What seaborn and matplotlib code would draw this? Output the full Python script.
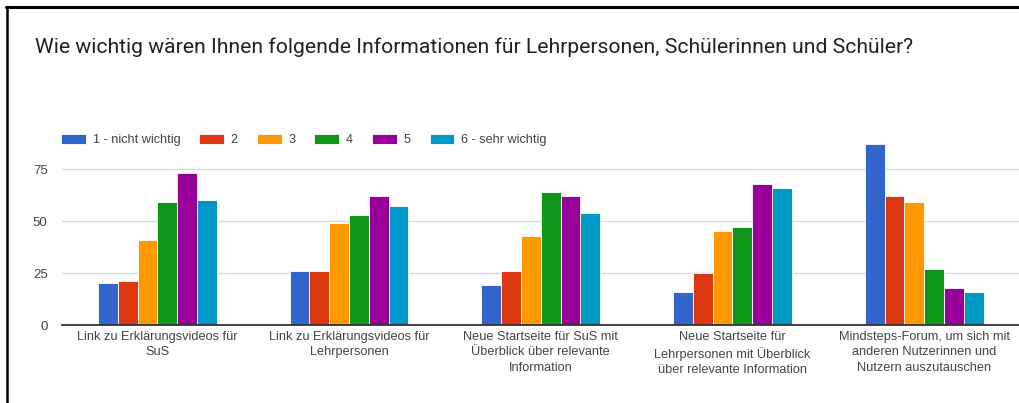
import matplotlib
matplotlib.use("Agg")
import matplotlib.pyplot as plt
from matplotlib.lines import Line2D
import pandas as pd
import seaborn as sns

categories = [
    "Link zu Erklärungsvideos für\nSuS",
    "Link zu Erklärungsvideos für\nLehrpersonen",
    "Neue Startseite für SuS mit\nÜberblick über relevante\nInformation",
    "Neue Startseite für\nLehrpersonen mit Überblick\nüber relevante Information",
    "Mindsteps-Forum, um sich mit\nanderen Nutzerinnen und\nNutzern auszutauschen",
]
levels = ["1 - nicht wichtig", "2", "3", "4", "5", "6 - sehr wichtig"]
counts = {
    "1 - nicht wichtig": [20, 26, 19, 16, 87],
    "2": [21, 26, 26, 25, 62],
    "3": [41, 49, 43, 45, 59],
    "4": [59, 53, 64, 47, 27],
    "5": [73, 62, 62, 68, 18],
    "6 - sehr wichtig": [60, 57, 54, 66, 16],
}
colors = ["#3366cc", "#dc3912", "#ff9900", "#109618", "#990099", "#0099c6"]
yticks = [0, 25, 50, 75]

rows = []
for lvl in levels:
    for cat, v in zip(categories, counts[lvl]):
        rows.append({"Frage": cat, "Antwort": lvl, "Anzahl": v})
df = pd.DataFrame(rows)

sns.set_style("white")
plt.rcParams["font.family"] = ["Liberation Sans", "DejaVu Sans"]

W, H = 1019, 403
fig = plt.figure(figsize=(W / 100, H / 100), dpi=100)
ax = fig.add_axes([61.5 / W, 78 / H, 958.5 / W, 183 / H])

sns.barplot(data=df, x="Frage", y="Anzahl", hue="Antwort", hue_order=levels,
            order=categories, palette=colors, width=0.62, saturation=1,
            edgecolor="white", linewidth=0.6, ax=ax, legend=True)

ax.set_xlim(-0.5, 4.5)
ax.set_ylim(0, 88)
ax.set_yticks(yticks)
ax.set_xlabel("")
ax.set_ylabel("")
ax.grid(axis="y", color="#d9d9d9", linewidth=1)
ax.set_axisbelow(True)
for s in ["top", "right", "left"]:
    ax.spines[s].set_visible(False)
ax.spines["bottom"].set_color("#333333")
ax.spines["bottom"].set_linewidth(1.3)
ax.tick_params(axis="y", length=0, pad=10, labelsize=9.5, labelcolor="#444444")
ax.tick_params(axis="x", length=0, pad=4, labelsize=9.2, labelcolor="#444444")
for t in ax.get_xticklabels():
    t.set_linespacing(1.4)

handles, labels = ax.get_legend_handles_labels()
ax.legend_.remove()
fig.legend(handles, labels, ncol=6, loc="upper left",
           bbox_to_anchor=(61 / W, 1 - 133.5 / H), frameon=False,
           fontsize=9.1, labelcolor="#444444", handlelength=1.95,
           handleheight=0.95, handletextpad=0.55, columnspacing=1.5,
           borderpad=0, borderaxespad=0)

fig.text(35 / W, 1 - 47 / H, "Wie wichtig wären Ihnen folgende Informationen für Lehrpersonen, Schülerinnen und Schüler?",
         fontsize=15.2, family=["Roboto", "DejaVu Sans"], color="#202124", va="center", ha="left")

# Rahmen oben und links
fig.add_artist(Line2D([6 / W, 1], [1 - 6.5 / H, 1 - 6.5 / H], color="black", linewidth=2.2))
fig.add_artist(Line2D([7 / W, 7 / W], [0, 1 - 6.5 / H], color="black", linewidth=1.8))

fig.savefig("out.png", dpi=100)
